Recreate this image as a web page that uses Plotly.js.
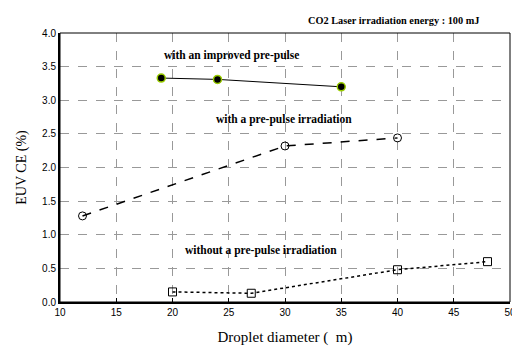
<!DOCTYPE html>
<html><head><meta charset="utf-8">
<script src="https://cdn.plot.ly/plotly-3.0.1.min.js"></script>
<style>html,body{margin:0;padding:0;background:#fff}#c{width:512px;height:352px}</style>
</head><body><div id="c"></div>
<script>
const improvedX = [19, 24, 35];
const improvedY = [3.33, 3.31, 3.2];
const prePulseX = [12, 30, 40];
const prePulseY = [1.28, 2.32, 2.44];
const withoutX = [20, 27, 40, 48];
const withoutY = [0.15, 0.13, 0.48, 0.6];
const xTicks = [10, 15, 20, 25, 30, 35, 40, 45, 50];
const yTicks = [0, 0.5, 1, 1.5, 2, 2.5, 3, 3.5, 4];

const serif = "'Liberation Serif', 'Times New Roman', serif";
const sans = "'Liberation Sans', Arial, sans-serif";

const traces = [
  {x: improvedX, y: improvedY, mode: 'lines+markers', type: 'scatter',
   line: {color: '#000', width: 1},
   marker: {symbol: 'circle', size: 8, color: '#000', line: {color: '#9acd00', width: 1.5}}},
  {x: prePulseX, y: prePulseY, mode: 'lines+markers', type: 'scatter',
   line: {color: '#000', width: 1.5, dash: 'dash'},
   marker: {symbol: 'circle-open', size: 8, color: '#000', line: {width: 1}}},
  {x: withoutX, y: withoutY, mode: 'lines+markers', type: 'scatter',
   line: {color: '#000', width: 1.5, dash: 'dot'},
   marker: {symbol: 'square-open', size: 8, color: '#000', line: {width: 1}}}
];

const layout = {
  width: 512, height: 352,
  margin: {l: 60, r: 2, t: 33, b: 50},
  paper_bgcolor: '#fff', plot_bgcolor: '#fff',
  showlegend: false,
  xaxis: {range: [10, 50], tickvals: xTicks, ticktext: xTicks.map(String),
    showgrid: true, gridcolor: '#999', griddash: 'dash', gridwidth: 1,
    showline: true, linecolor: '#000', linewidth: 2, zeroline: false,
    ticks: 'inside', ticklen: 4, tickcolor: '#000', ticklabeloverflow: 'allow',
    tickfont: {family: sans, size: 10, color: '#000'},
    title: {text: 'Droplet diameter (  m)', font: {family: serif, size: 15, color: '#000'}, standoff: 14}},
  yaxis: {range: [0, 4], tickvals: yTicks, ticktext: yTicks.map(v => v.toFixed(1)),
    showgrid: true, gridcolor: '#999', griddash: 'dash', gridwidth: 1,
    showline: true, linecolor: '#000', linewidth: 2, zeroline: false,
    ticks: '', tickfont: {family: sans, size: 10, color: '#000'},
    title: {text: 'EUV CE (%)', font: {family: serif, size: 14, color: '#000'}, standoff: 12}},
  shapes: [
    {type: 'rect', xref: 'paper', yref: 'paper', x0: 0, x1: 1, y0: 0, y1: 1,
     line: {color: '#000', width: 1}}
  ],
  annotations: [
    {text: '<b>CO2 Laser irradiation energy : 100 mJ</b>', xref: 'paper', yref: 'paper',
     x: 0.74, y: 1.075, xanchor: 'center', showarrow: false, font: {family: serif, size: 10.3, color: '#000'}},
    {text: '<b>with an improved pre-pulse</b>', xref: 'x', yref: 'y', x: 25.2, y: 3.66,
     xanchor: 'center', showarrow: false, font: {family: serif, size: 11.5, color: '#000'}},
    {text: '<b>with a pre-pulse irradiation</b>', xref: 'x', yref: 'y', x: 29.9, y: 2.72,
     xanchor: 'center', showarrow: false, font: {family: serif, size: 11.5, color: '#000'}},
    {text: '<b>without a pre-pulse irradiation</b>', xref: 'x', yref: 'y', x: 27.9, y: 0.77,
     xanchor: 'center', showarrow: false, font: {family: serif, size: 11.5, color: '#000'}}
  ]
};
Plotly.newPlot('c', traces, layout, {displayModeBar: false, staticPlot: true});
</script></body></html>
